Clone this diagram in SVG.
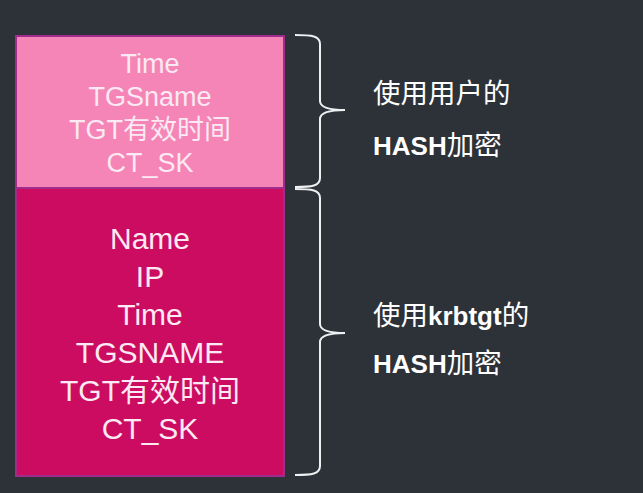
<svg xmlns="http://www.w3.org/2000/svg" width="643" height="493" viewBox="0 0 643 493">
<style>
.bg{fill:#2d3238}
.box{stroke:#a02c8e;stroke-width:2}
.t{font-family:"Liberation Sans","Noto Sans CJK SC",sans-serif;fill:#fbe9f3;text-anchor:middle}
.s{font-size:27px}
.b{font-size:30px}
.lbl{font-family:"Liberation Sans","Noto Sans CJK SC",sans-serif;font-size:26px;fill:#ffffff}
.cjk{font-size:27.5px}
.bold{font-weight:bold}
.brace{fill:none;stroke:#eef0f2;stroke-width:2}
</style>
<rect class="bg" x="0" y="0" width="643" height="493"/>
<g id="user-part">
<rect class="box" x="16" y="36" width="268" height="152" fill="#f585b6"/>
<text class="t s" x="150" y="73">Time</text>
<text class="t s" x="150" y="106">TGSname</text>
<text class="t s" x="150" y="139">TGT有效时间</text>
<text class="t s" x="150" y="172">CT_SK</text>
</g>
<g id="krbtgt-part">
<rect class="box" x="16" y="188" width="268" height="288" fill="#cc0c60"/>
<text class="t b" x="150" y="249">Name</text>
<text class="t b" x="150" y="287">IP</text>
<text class="t b" x="150" y="325">Time</text>
<text class="t b" x="150" y="363">TGSNAME</text>
<text class="t b" x="150" y="401">TGT有效时间</text>
<text class="t b" x="150" y="439">CT_SK</text>
</g>
<g id="connectors">
<path class="brace" d="M295,35 C312,35 320,36 320,44 L320,101 C320,108 330,110 345,110 C330,110 320,112 320,119 L320,178 C320,186 312,187 295,187"/>
<path class="brace" d="M295,189 C312,189 320,190 320,198 L320,324 C320,331 330,333 345,333 C330,333 320,335 320,342 L320,466 C320,474 312,475 295,475"/>
</g>
<g id="label-user">
<text class="lbl" x="373" y="103"><tspan class="cjk">使用用户的</tspan></text>
<text class="lbl" x="373" y="155"><tspan class="bold">HASH</tspan><tspan class="cjk">加密</tspan></text>
</g>
<g id="label-krbtgt">
<text class="lbl" x="373" y="325"><tspan class="cjk">使用</tspan><tspan class="bold">krbtgt</tspan><tspan class="cjk">的</tspan></text>
<text class="lbl" x="373" y="373"><tspan class="bold">HASH</tspan><tspan class="cjk">加密</tspan></text>
</g>
</svg>
